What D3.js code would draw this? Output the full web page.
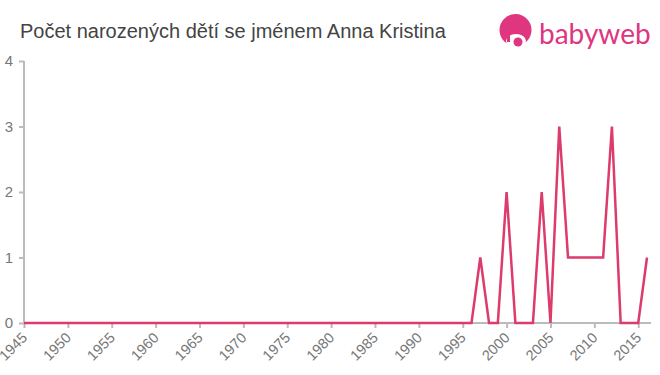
<!DOCTYPE html>
<html><head><meta charset="utf-8">
<script src="https://cdn.jsdelivr.net/npm/d3@7"></script>
<style>body{margin:0;background:#fff;font-family:"Liberation Sans",Arial,sans-serif}</style>
</head><body><svg id="c" width="660" height="375"></svg>
<script>
const title = "Počet narozených dětí se jménem Anna Kristina";
const years = d3.range(1945, 2017);
const nonZero = {1997:1, 2000:2, 2004:2, 2006:3, 2007:1, 2008:1, 2009:1, 2010:1, 2011:1, 2012:3, 2016:1};
const values = years.map(y => nonZero[y] || 0);
const xTicks = d3.range(1945, 2016, 5);
const yTicks = [0,1,2,3,4];

const svg = d3.select("#c");
const x = d3.scaleLinear().domain([1945, 2016]).range([24, 647]);
const y = d3.scaleLinear().domain([0, 4]).range([323, 61]);

svg.append("text").attr("x", 20).attr("y", 38).attr("fill", "#444")
  .style("font-size", "20px").text(title);

// logo
const lg = svg.append("g");
lg.append("circle").attr("cx", 515.5).attr("cy", 30).attr("r", 16).attr("fill", "#e0357f");
lg.append("ellipse").attr("cx", 516).attr("cy", 41).attr("rx", 10).attr("ry", 7).attr("fill", "#fff");
lg.append("circle").attr("cx", 518).attr("cy", 42).attr("r", 4.5).attr("fill", "#e0357f");
lg.append("rect").attr("x", 507).attr("y", 35).attr("width", 3).attr("height", 7).attr("fill", "#e0357f");
lg.append("text").attr("x", 539).attr("y", 44).attr("fill", "#e0357f")
  .style("font-size", "28px").style("font-family", "Lato, 'Open Sans', sans-serif").text("babyweb");

// y axis
const ya = svg.append("g").attr("transform", "translate(24,0)")
  .call(d3.axisLeft(y).tickValues(yTicks).tickSize(5).tickPadding(6).tickFormat(d3.format("d")));
ya.select(".domain").attr("stroke", "#bbb").attr("stroke-width", 2).attr("d", "M0,61V323");
ya.selectAll(".tick line").attr("stroke", "#bbb").attr("stroke-width", 2);
ya.selectAll(".tick text").attr("fill", "#777").style("font-size", "15px").style("font-family", "Liberation Sans, Arial, sans-serif");

// x axis
const xa = svg.append("g").attr("transform", "translate(0,323)")
  .call(d3.axisBottom(x).tickValues(xTicks).tickSize(5).tickFormat(d3.format("d")));
xa.select(".domain").attr("stroke", "#bbb").attr("stroke-width", 2).attr("d", "M24,0H651");
xa.selectAll(".tick line").attr("stroke", "#bbb").attr("stroke-width", 2);
xa.selectAll(".tick text").attr("fill", "#777").style("font-size", "14.5px")
  .style("font-family", "Liberation Sans, Arial, sans-serif")
  .attr("text-anchor", "end").attr("dy", "0.35em")
  .attr("transform", "translate(0,12) rotate(-45)").attr("y", 0).attr("x", 0);

// line
svg.append("path").datum(values)
  .attr("fill", "none").attr("stroke", "#dc3b6c").attr("stroke-width", 2.5)
  .attr("d", d3.line().x((d, i) => x(years[i])).y(d => y(d)));
</script></body></html>
